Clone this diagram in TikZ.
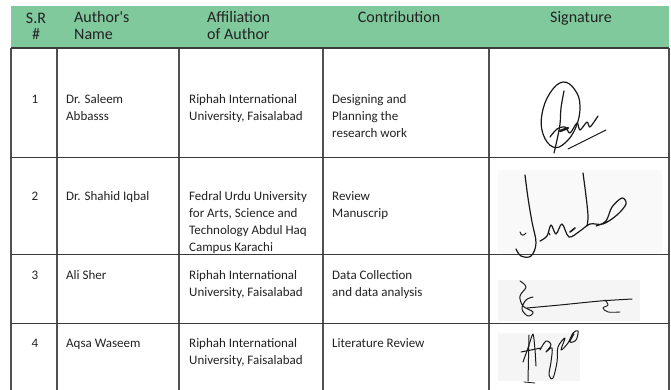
\documentclass[tikz,border=0pt]{standalone}
\usepackage{fontspec}
\setmainfont{Carlito}
\definecolor{hdrgreen}{RGB}{128,201,157}
\definecolor{gridv}{RGB}{80,80,80}
\definecolor{gridh}{RGB}{58,58,58}
\definecolor{txt}{RGB}{34,34,34}
\begin{document}
\begin{tikzpicture}[x=1pt,y=-1pt,
  hdr/.style={font=\fontsize{16}{17}\selectfont, text=txt, inner sep=0pt},
  body/.style={font=\fontsize{13}{17}\selectfont, text=txt, inner sep=0pt, anchor=base west},
  num/.style={font=\fontsize{13}{17}\selectfont, text=txt, inner sep=0pt, anchor=base},
  vline/.style={draw=gridv, line width=1.3pt},
  hline/.style={draw=gridh, line width=1.8pt},
  pen/.style={draw=black!90, line width=1.2pt, line cap=round, line join=round},
  scan/.style={fill=black!4, draw=none},
  faintscan/.style={fill=black!2.5, draw=none}]
\useasboundingbox (0,0) rectangle (671,390);
\fill[white] (0,0) rectangle (671,390);
% header band
\fill[hdrgreen] (11,6) rectangle (669,48);
% grid coordinates
\coordinate (t1) at (11,48);   \coordinate (b1) at (11,390);
\coordinate (t2) at (57,48);   \coordinate (b2) at (57,390);
\coordinate (t3) at (179,48);  \coordinate (b3) at (179,390);
\coordinate (t4) at (323,48);  \coordinate (b4) at (323,390);
\coordinate (t5) at (489,48);  \coordinate (b5) at (489,390);
\coordinate (t6) at (669,48);  \coordinate (b6) at (669,390);
\coordinate (h0l) at (11,48);    \coordinate (h0r) at (669,48);
\coordinate (h1l) at (11,157.5); \coordinate (h1r) at (669,157.5);
\coordinate (h2l) at (11,254.5); \coordinate (h2r) at (669,254.5);
\coordinate (h3l) at (11,323.5); \coordinate (h3r) at (669,323.5);
% faint scan backgrounds of signatures
\path[faintscan] (498,170) rectangle (662,253);
\path[scan] (498,280) rectangle (640,321);
\path[scan] (498,333) rectangle (580,381);
\draw[vline] (t1) -- (b1);
\draw[vline] (t2) -- (b2);
\draw[vline] (t3) -- (b3);
\draw[vline] (t4) -- (b4);
\draw[vline] (t5) -- (b5);
\draw[vline] (t6) -- (b6);
\draw[hline] (h0l) -- (h0r);
\draw[hline] (h1l) -- (h1r);
\draw[hline] (h2l) -- (h2r);
\draw[hline] (h3l) -- (h3r);
% header
\node[hdr, anchor=base] (hsr1) at (36,24) {S.R};
\node[hdr, anchor=base] (hsr2) at (36,40) {\#};
\node[hdr, anchor=base west] (hau1) at (74,23) {Author\textquotesingle s};
\node[hdr, anchor=base west] (hau2) at (74,40) {Name};
\node[hdr, anchor=base west] (haf1) at (207,23) {Affiliation};
\node[hdr, anchor=base west] (haf2) at (207,40) {of Author};
\node[hdr, anchor=base] (hco) at (399,23) {Contribution};
\node[hdr, anchor=base] (hsi) at (581,23) {Signature};
% row 1
\node[num] (n1) at (35,103.5) {1};
\node[body] (a1a) at (66,103.5) {Dr. Saleem};
\node[body] (a1b) at (66,120.5) {Abbasss};
\node[body] (f1a) at (189,103.5) {Riphah International};
\node[body] (f1b) at (189,120.5) {University, Faisalabad};
\node[body] (c1a) at (332,103.5) {Designing and};
\node[body] (c1b) at (332,120.5) {Planning the};
\node[body] (c1c) at (332,137.5) {research work};
% row 2
\node[num] (n2) at (35,200.5) {2};
\node[body] (a2a) at (66,200.5) {Dr. Shahid Iqbal};
\node[body] (f2a) at (189,200.5) {Fedral Urdu University};
\node[body] (f2b) at (189,217.5) {for Arts, Science and};
\node[body] (f2c) at (189,234.5) {Technology Abdul Haq};
\node[body] (f2d) at (189,251.5) {Campus Karachi};
\node[body] (c2a) at (332,200.5) {Review};
\node[body] (c2b) at (332,217.5) {Manuscrip};
% row 3
\node[num] (n3) at (35,279.5) {3};
\node[body] (a3a) at (66,279.5) {Ali Sher};
\node[body] (f3a) at (189,279.5) {Riphah International};
\node[body] (f3b) at (189,296.5) {University, Faisalabad};
\node[body] (c3a) at (332,279.5) {Data Collection};
\node[body] (c3b) at (332,296.5) {and data analysis};
% row 4
\node[num] (n4) at (35,347.5) {4};
\node[body] (a4a) at (66,347.5) {Aqsa Waseem};
\node[body] (f4a) at (189,347.5) {Riphah International};
\node[body] (f4b) at (189,364.5) {University, Faisalabad};
\node[body] (c4a) at (332,347.5) {Literature Review};
% signature 1
\draw[pen] plot[smooth cycle, tension=0.7] coordinates {(563,82) (575,90) (580,106) (576,127) (565,143) (553,147) (543,134) (542,114) (550,93)};
\draw[pen] plot[smooth, tension=0.6] coordinates {(564,91) (561,108) (560,124) (557,140) (554,153)};
\draw[pen] plot[smooth, tension=0.5] coordinates {(550,137) (557,129) (565,127) (570,133) (577,123) (580,130) (587,122) (590,127) (598,116)};
\draw[pen, line width=2.4pt] (560,131) -- (568,128);
\draw[pen, line width=1pt] (568,149) -- (606,130);
% signature 2
\draw[pen] plot[smooth, tension=0.6] coordinates {(525,175) (528,198) (532,222) (536,243) (531,256) (521,256) (516,249)};
\draw[pen] plot[smooth, tension=0.6] coordinates {(583,173) (586,196) (588,216) (587,226)};
\draw[pen] plot[smooth, tension=0.55] coordinates {(540,241) (547,236) (551,225) (556,234) (562,224) (569,237) (580,231) (590,224) (603,224) (617,215) (626,204) (622,198) (612,207) (606,221) (596,226)};
\draw[pen, line width=1.6pt] (570,232) -- (575,228);
\draw[pen, line width=1pt] (520,232) .. controls (521,236) and (524,236) .. (526,233);
\draw[pen, line width=1pt] (549,233) -- (550,235);
% signature 3
\draw[pen, line width=1pt] plot[smooth, tension=0.6] coordinates {(520,281) (526,287) (520,296) (523,306) (533,312) (528,316) (522,309) (526,300) (533,297)};
\draw[pen, line width=1pt] plot[smooth, tension=0.4] coordinates {(527,308) (560,305) (600,301) (632,299)};
\draw[pen, line width=0.9pt] plot[smooth, tension=0.6] coordinates {(605,300) (608,305) (603,308) (608,312) (620,312)};
% signature 4
\draw[pen, line width=1pt] plot[smooth, tension=0.4] coordinates {(523,362) (528,348) (533,334) (535,350) (536,366)};
\draw[pen, line width=1pt] (529,335) -- (528,381);
\draw[pen, line width=0.8pt] (524,382) -- (535,383);
\draw[pen, line width=1pt] (521,352) -- (541,348);
\draw[pen, line width=1pt] plot[smooth, tension=0.6] coordinates {(540,350) (546,341) (551,345) (546,352) (552,348) (551,362) (549,375) (553,378) (557,362) (558,347) (565,338) (561,350) (568,343) (573,333) (578,331) (576,340) (570,342) (574,334)};
\end{tikzpicture}
\end{document}
